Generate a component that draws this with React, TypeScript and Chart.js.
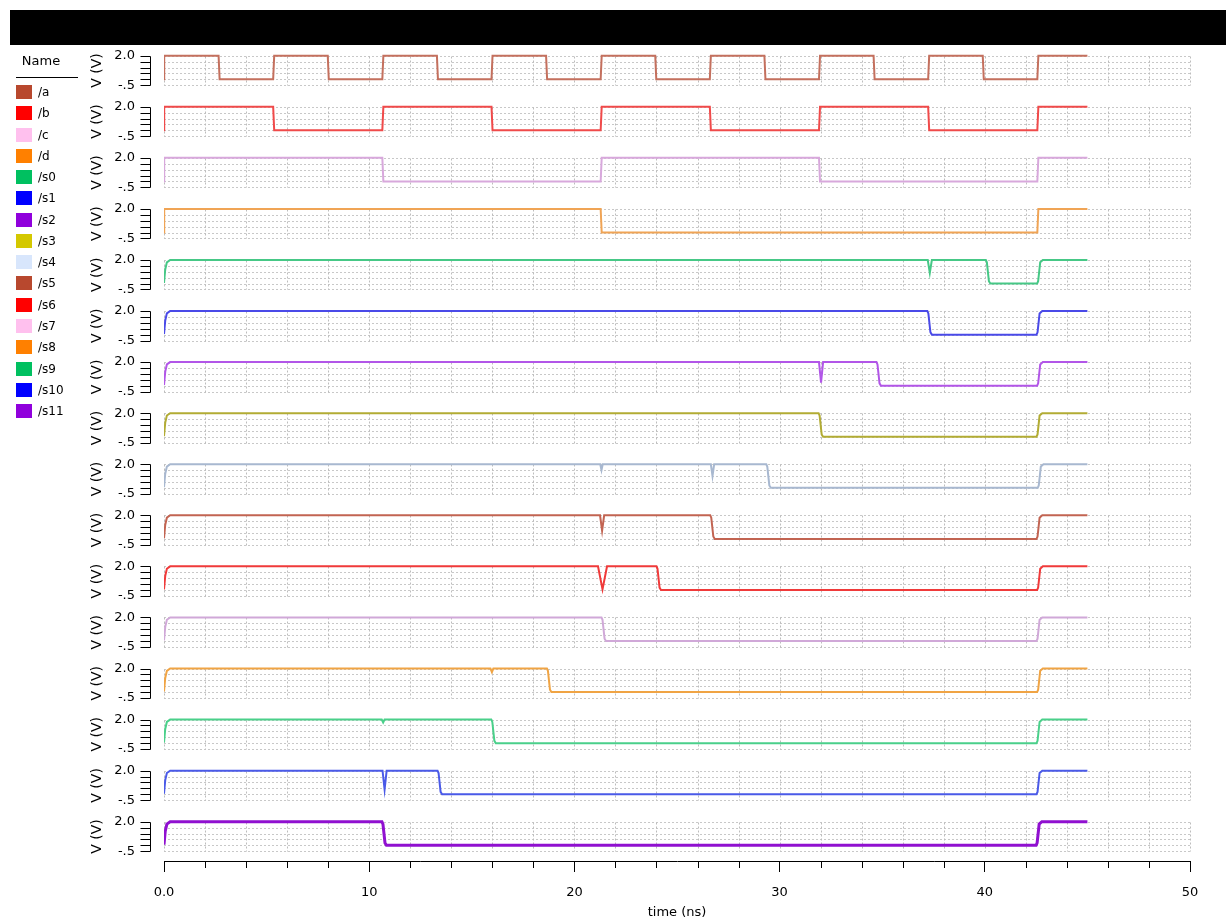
import React, { useEffect, useRef } from 'react';
import { Chart, registerables } from 'chart.js';

Chart.register(...registerables);

// ---------- data ----------
const NAMES = ['/a', '/b', '/c', '/d', '/s0', '/s1', '/s2', '/s3', '/s4', '/s5', '/s6', '/s7', '/s8', '/s9', '/s10', '/s11'];
const SWATCH_COLORS = ['#b8482e', '#ff0000', '#ffc0ee', '#ff8000', '#00c060', '#0000ff', '#9000dc', '#d4c800', '#d8e6fc', '#b8482e', '#ff0000', '#ffc0ee', '#ff8000', '#00c060', '#0000ff', '#9000dc'];
const LINE_COLORS = ['#c4705e', '#f04a4a', '#d8a8dc', '#f0a455', '#46c886', '#4a4ae8', '#b256e8', '#b2ac34', '#a8b8d0', '#c26452', '#f03a3a', '#d0a8d8', '#f0a444', '#4ad08a', '#4a5ae8', '#9010d0'];
const LINE_WIDTHS = [2, 2, 2, 2, 2, 2, 2, 2, 2, 2, 2, 2, 2, 2, 2, 3];

// input toggle times (ns)
const A_EDGES = [2.66, 5.32, 7.98, 10.64, 13.3, 15.96, 18.62, 21.28, 23.94, 26.6, 29.26, 31.92, 34.58, 37.24, 39.9, 42.56];
const B_EDGES = [5.32, 10.64, 15.96, 21.28, 26.6, 31.92, 37.24, 42.56];
const C_EDGES = [10.64, 21.28, 31.92, 42.56];
const D_EDGES = [21.28, 42.56];

// outputs s0..s11: fall time, rise time, glitches [centre, half width, min V]
const OUT_FALL = [40.05, 37.2, 34.72, 31.9, 29.35, 26.62, 24.0, 21.32, 18.66, 15.95, 13.33, 10.62];
const OUT_RISE = [42.55, 42.52, 42.55, 42.52, 42.58, 42.52, 42.55, 42.52, 42.55, 42.52, 42.52, 42.5];
const OUT_GLITCHES: [number, number, number][][] = [
  [[37.32, 0.1, 0.9]],
  [],
  [[32.02, 0.1, 0.25]],
  [],
  [[21.32, 0.06, 1.5], [26.73, 0.08, 1.0]],
  [[21.35, 0.1, 0.7]],
  [[21.37, 0.22, 0.05]],
  [],
  [[15.98, 0.07, 1.7]],
  [[10.68, 0.07, 1.75]],
  [[10.75, 0.1, 0.4]],
  [],
];

const T_END = 45;
const Y_TICKS = [-0.5, 0, 0.5, 1, 1.5, 2];
const X_TICK_LABELS: Record<number, string> = { 0: '0.0', 10: '10', 20: '20', 30: '30', 40: '40', 50: '50' };

// ---------- build tables ----------
type P = { x: number; y: number };

function inputWave(edges: number[]): P[] {
  const pts: P[] = [{ x: 0, y: 0 }, { x: 0.01, y: 2 }];
  let level = 2;
  for (const e of edges) {
    pts.push({ x: e, y: level });
    level = 2 - level;
    pts.push({ x: e + 0.05, y: level });
  }
  pts.push({ x: T_END, y: level });
  return pts;
}

function outputWave(fall: number, rise: number, glitches: [number, number, number][]): P[] {
  const pts: P[] = [
    { x: 0, y: 0.05 }, { x: 0.06, y: 1.2 }, { x: 0.14, y: 1.8 }, { x: 0.3, y: 2 },
  ];
  for (const [c, w, v] of glitches) {
    pts.push({ x: c - w, y: 2 }, { x: c, y: v }, { x: c + w, y: 2 });
  }
  pts.push({ x: fall, y: 2 }, { x: fall + 0.05, y: 1.8 }, { x: fall + 0.15, y: 0.2 }, { x: fall + 0.22, y: 0 });
  pts.push({ x: rise, y: 0 }, { x: rise + 0.05, y: 0.2 }, { x: rise + 0.15, y: 1.8 }, { x: rise + 0.28, y: 2 });
  pts.push({ x: T_END, y: 2 });
  return pts;
}

const WAVES: P[][] = [
  inputWave(A_EDGES),
  inputWave(B_EDGES),
  inputWave(C_EDGES),
  inputWave(D_EDGES),
  ...OUT_FALL.map((f, i) => outputWave(f, OUT_RISE[i], OUT_GLITCHES[i])),
];

// ---------- layout constants ----------
const W = 1226;
const H = 924;
const PLOT_LEFT = 164;
const PLOT_RIGHT = 1190;
const PLOT_BOTTOM = 862;
const PAD_TOP = 44.93;
const PAD_LEFT = 85;
const Y_MIN = -1.415;
const Y_MAX = 2.913;
const FONT = 'DejaVu Sans';

const panelPlugin = {
  id: 'panelGrid',
  beforeDatasetsDraw(chart: any) {
    const ctx = chart.ctx as CanvasRenderingContext2D;
    const xs = chart.scales.x;
    const { left, right } = chart.chartArea;
    ctx.save();
    for (let i = 0; i < NAMES.length; i++) {
      const ys = chart.scales['y' + i];
      const yTop = Math.round(ys.getPixelForValue(2)) + 0.5;
      const yBot = Math.round(ys.getPixelForValue(-0.5)) + 0.5;
      ctx.lineWidth = 1;
      // horizontal dotted grid
      ctx.strokeStyle = '#c8c8c8';
      ctx.setLineDash([2, 2]);
      for (const v of Y_TICKS) {
        const y = Math.round(ys.getPixelForValue(v)) + 0.5;
        ctx.beginPath();
        ctx.moveTo(left, y);
        ctx.lineTo(right, y);
        ctx.stroke();
      }
      // vertical dotted grid
      ctx.strokeStyle = '#bdbdbd';
      ctx.setLineDash([2, 2]);
      for (const t of xs.ticks) {
        const x = Math.round(xs.getPixelForValue(t.value)) + 0.5;
        ctx.beginPath();
        ctx.moveTo(x, yTop);
        ctx.lineTo(x, yBot);
        ctx.stroke();
      }
      // y axis "E" marks
      ctx.setLineDash([]);
      ctx.strokeStyle = '#000';
      const ax = left - 14 + 0.5;
      ctx.beginPath();
      ctx.moveTo(ax, yTop);
      ctx.lineTo(ax, yBot);
      for (const v of Y_TICKS) {
        const y = Math.round(ys.getPixelForValue(v)) + 0.5;
        ctx.moveTo(ax - 10, y);
        ctx.lineTo(ax, y);
      }
      ctx.stroke();
    }
    ctx.restore();
  },
  afterDraw(chart: any) {
    const ctx = chart.ctx as CanvasRenderingContext2D;
    const xs = chart.scales.x;
    const y0 = chart.chartArea.bottom;
    ctx.save();
    ctx.strokeStyle = '#000';
    ctx.lineWidth = 1;
    ctx.beginPath();
    for (const t of xs.ticks) {
      if (t.value % 10 === 0) continue;
      const x = Math.round(xs.getPixelForValue(t.value)) + 0.5;
      ctx.moveTo(x, y0);
      ctx.lineTo(x, y0 + 6);
    }
    ctx.stroke();
    ctx.restore();
  },
};

export default function App() {
  const ref = useRef<HTMLCanvasElement | null>(null);

  useEffect(() => {
    if (!ref.current) return;
    const scales: any = {
      x: {
        type: 'linear',
        position: 'bottom',
        min: 0,
        max: 50,
        afterFit: (s: any) => { s.height = H - PLOT_BOTTOM; },
        ticks: {
          stepSize: 2,
          autoSkip: false,
          maxRotation: 0,
          padding: 13,
          color: '#000',
          font: { family: FONT, size: 13 },
          callback: (v: any) => (X_TICK_LABELS[v as number] ?? ''),
        },
        grid: {
          drawOnChartArea: false,
          drawTicks: true,
          tickLength: 10,
          tickWidth: 1,
          tickColor: (c: any) => (c.tick && c.tick.value % 10 === 0 ? '#000' : 'rgba(0,0,0,0)'),
        },
        border: { display: true, color: '#000', width: 1 },
        title: {
          display: true,
          text: 'time (ns)',
          color: '#000',
          font: { family: FONT, size: 13 },
          padding: { top: 0, bottom: 3.5 },
        },
      },
    };
    NAMES.forEach((_, i) => {
      scales['y' + i] = {
        type: 'linear',
        position: 'left',
        stack: 'panels',
        stackWeight: 1,
        weight: NAMES.length - i,
        min: Y_MIN,
        max: Y_MAX,
        afterBuildTicks: (s: any) => { s.ticks = Y_TICKS.map((v) => ({ value: v })); },
        afterFit: (s: any) => { s.width = PLOT_LEFT - PAD_LEFT; },
        grid: { display: false, drawTicks: false, tickLength: 0 },
        border: { display: false },
        ticks: {
          autoSkip: false,
          padding: 29,
          color: '#000',
          font: { family: FONT, size: 13 },
          callback: (v: any) => (v === 2 ? '2.0' : v === -0.5 ? '-.5' : ''),
        },
        title: {
          display: true,
          text: 'V (V)',
          color: '#000',
          font: { family: FONT, size: 14 },
          padding: { top: 4, bottom: 0 },
        },
      };
    });

    const chart = new Chart(ref.current, {
      type: 'line',
      data: {
        datasets: WAVES.map((pts, i) => ({
          label: NAMES[i],
          data: pts,
          xAxisID: 'x',
          yAxisID: 'y' + i,
          borderColor: LINE_COLORS[i],
          borderWidth: LINE_WIDTHS[i],
          pointRadius: 0,
          fill: false,
          tension: 0,
        })),
      },
      options: {
        responsive: false,
        maintainAspectRatio: false,
        animation: false,
        devicePixelRatio: 1,
        parsing: false as any,
        layout: { padding: { top: PAD_TOP, left: PAD_LEFT, right: W - PLOT_RIGHT, bottom: 0 } },
        plugins: { legend: { display: false }, tooltip: { enabled: false } },
        scales,
      },
      plugins: [panelPlugin],
    });
    return () => chart.destroy();
  }, []);

  return (
    <div style={{ position: 'absolute', left: 0, top: 0, width: W, height: H, overflow: 'hidden', background: '#fff', fontFamily: FONT }}>
      <canvas ref={ref} width={W} height={H} style={{ position: 'absolute', left: 0, top: 0, width: W, height: H, display: 'block' }} />
      <div style={{ position: 'absolute', left: 10, top: 10, width: W - 10, height: 35, background: '#000' }} />
      <div style={{ position: 'absolute', left: 16, top: 53, width: 50, textAlign: 'center', fontSize: 13, lineHeight: '16px', color: '#000' }}>Name</div>
      <div style={{ position: 'absolute', left: 16, top: 77, width: 62, height: 1, background: '#000' }} />
      {NAMES.map((n, i) => (
        <React.Fragment key={n}>
          <div style={{ position: 'absolute', left: 16, top: 85 + i * 21.27, width: 16, height: 14, background: SWATCH_COLORS[i] }} />
          <div style={{ position: 'absolute', left: 38, top: 84 + i * 21.27, fontSize: 12, lineHeight: '16px', color: '#000' }}>{n}</div>
        </React.Fragment>
      ))}
    </div>
  );
}
